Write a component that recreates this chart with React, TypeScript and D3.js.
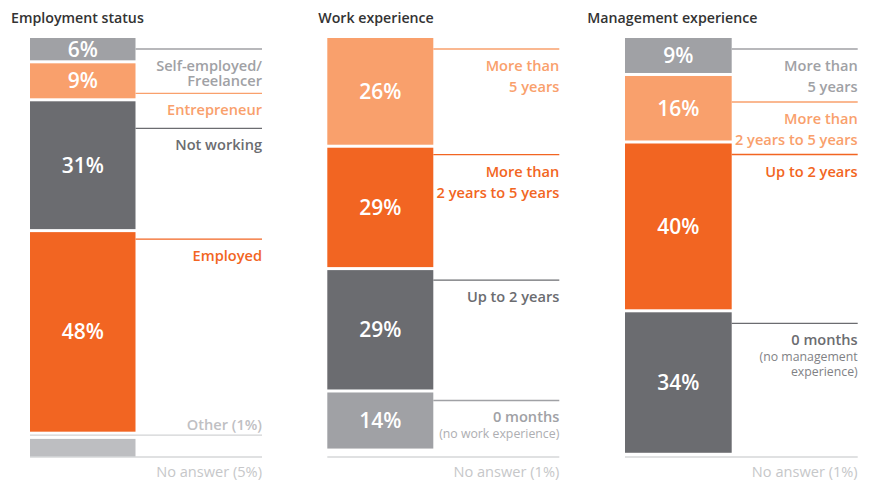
import React from 'react';
import * as d3 from 'd3';

// ---------- DATA ----------
const employmentTitle = 'Employment status';
const employmentLabels = ['Self-employed/\nFreelancer', 'Entrepreneur', 'Not working', 'Employed', 'Other (1%)', 'No answer (5%)'];
const employmentValues = [6, 9, 31, 48, 1, 5];
const employmentKinds = ['bar', 'bar', 'bar', 'bar', 'other', 'noanswer'];
const employmentColors = ['#a0a1a5', '#f9a06c', '#6b6c70', '#f26522', '#c4c5c8', '#bdbec1'];
const employmentNotes = ['', '', '', '', '', ''];

const workTitle = 'Work experience';
const workLabels = ['More than\n5 years', 'More than\n2 years to 5 years', 'Up to 2 years', '0 months', 'No answer (1%)'];
const workValues = [26, 29, 29, 14, 1];
const workKinds = ['bar', 'bar', 'bar', 'bar', 'noanswer'];
const workColors = ['#f9a06c', '#f26522', '#6b6c70', '#a0a1a5', '#bdbec1'];
const workNotes = ['', '', '', '(no work experience)', ''];

const mgmtTitle = 'Management experience';
const mgmtLabels = ['More than\n5 years', 'More than\n2 years to 5 years', 'Up to 2 years', '0 months', 'No answer (1%)'];
const mgmtValues = [9, 16, 40, 34, 1];
const mgmtKinds = ['bar', 'bar', 'bar', 'bar', 'noanswer'];
const mgmtColors = ['#a0a1a5', '#f9a06c', '#f26522', '#6b6c70', '#bdbec1'];
const mgmtNotes = ['', '', '', '(no management\nexperience)', ''];

// ---------- LAYOUT ----------
const W = 871;
const H = 483;
const FONT = "'Open Sans', 'Noto Sans', sans-serif";
const GAP = 3;
const MIN_NOANSWER_BAR = 3; // no-answer shares below this are shown as a line only
const yScale = d3.scaleLinear().domain([0, 100]).range([38, 460]);

const panelLayouts = [
  { titleX: 11, barX: 30, barW: 105.5, lineEnd: 262, leaderOffsets: [11, 30, 27, 7], lineHeight: 15 },
  { titleX: 318.3, barX: 327.3, barW: 106, lineEnd: 559.3, leaderOffsets: [11, 7, 10, 8], lineHeight: 21 },
  { titleX: 587.3, barX: 625, barW: 106.7, lineEnd: 857.7, leaderOffsets: [11, 26, 11, 11], lineHeight: 21 },
];

const panels = [
  { title: employmentTitle, labels: employmentLabels, values: employmentValues, kinds: employmentKinds, colors: employmentColors, notes: employmentNotes },
  { title: workTitle, labels: workLabels, values: workValues, kinds: workKinds, colors: workColors, notes: workNotes },
  { title: mgmtTitle, labels: mgmtLabels, values: mgmtValues, kinds: mgmtKinds, colors: mgmtColors, notes: mgmtNotes },
];

const otherText = '#bfc0c3';
const noAnswerText = '#c6c7c9';
const noAnswerLine = '#d6d7d9';

function Panel({ p, layout }: any) {
  const starts: number[] = [];
  let acc = 0;
  p.values.forEach((v: number) => { starts.push(acc); acc += v; });
  const baseY = yScale(100) - GAP;
  const els: any[] = [];
  let barIdx = 0;
  p.values.forEach((v: number, i: number) => {
    const s = starts[i];
    const e = s + v;
    const kind = p.kinds[i];
    const color = p.colors[i];
    if (kind === 'bar') {
      const y0 = yScale(s);
      const y1 = yScale(e) - GAP;
      els.push(<rect key={'r' + i} x={layout.barX} y={y0} width={layout.barW} height={y1 - y0} fill={color} />);
      els.push(
        <text key={'v' + i} x={layout.barX + layout.barW / 2} y={(y0 + y1) / 2} dy="0.36em" textAnchor="middle"
          fill="#fff" fontSize={21} fontWeight={600} fontFamily={FONT}>{v}%</text>
      );
      const ly = y0 + layout.leaderOffsets[barIdx];
      barIdx++;
      els.push(<line key={'l' + i} x1={layout.barX + layout.barW} x2={layout.lineEnd} y1={ly} y2={ly} stroke={color} strokeWidth={1.3} />);
      const lines = p.labels[i].split('\n');
      lines.forEach((t: string, j: number) => {
        els.push(
          <text key={'t' + i + '_' + j} x={layout.lineEnd} y={ly + 22 + j * layout.lineHeight} textAnchor="end"
            fill={color} fontSize={14.6} fontWeight={600} fontFamily={FONT}>{t}</text>
        );
      });
      const lastBase = ly + 22 + (lines.length - 1) * layout.lineHeight;
      if (p.notes[i]) {
        p.notes[i].split('\n').forEach((t: string, j: number) => {
          els.push(
            <text key={'n' + i + '_' + j} x={layout.lineEnd} y={lastBase + 16 + j * 15} textAnchor="end"
              fill={color} opacity={0.85} fontSize={12.3} fontWeight={400} fontFamily={FONT}>{t}</text>
          );
        });
      }
    } else if (kind === 'other') {
      const ly = yScale(s) + 0.5;
      els.push(<line key={'l' + i} x1={layout.barX} x2={layout.lineEnd} y1={ly} y2={ly} stroke="#d2d3d5" strokeWidth={1.3} />);
      els.push(
        <text key={'t' + i} x={layout.lineEnd} y={ly - 5} textAnchor="end" fill={otherText}
          fontSize={14.6} fontWeight={600} fontFamily={FONT}>{p.labels[i]}</text>
      );
    } else {
      const y0 = yScale(s);
      if (v >= MIN_NOANSWER_BAR) {
        els.push(<rect key={'r' + i} x={layout.barX} y={y0} width={layout.barW} height={baseY - y0} fill={color} />);
      }
      els.push(<line key={'l' + i} x1={layout.barX} x2={layout.lineEnd} y1={baseY} y2={baseY} stroke={noAnswerLine} strokeWidth={1.3} />);
      els.push(
        <text key={'t' + i} x={layout.lineEnd} y={baseY + 19.5} textAnchor="end" fill={noAnswerText}
          fontSize={14.6} fontWeight={400} fontFamily={FONT}>{p.labels[i]}</text>
      );
    }
  });
  return (
    <g>
      <text x={layout.titleX} y={22.5} fill="#333333" fontSize={14.2} fontWeight={600} fontFamily={FONT}>{p.title}</text>
      {els}
    </g>
  );
}

export default function App() {
  return (
    <div style={{ position: 'absolute', left: 0, top: 0, width: W, height: H, background: '#fff' }}>
      <svg width={W} height={H} viewBox={`0 0 ${W} ${H}`} style={{ display: 'block' }}>
        <rect x={0} y={0} width={W} height={H} fill="#fff" />
        {panels.map((p, i) => <Panel key={i} p={p} layout={panelLayouts[i]} />)}
      </svg>
    </div>
  );
}
